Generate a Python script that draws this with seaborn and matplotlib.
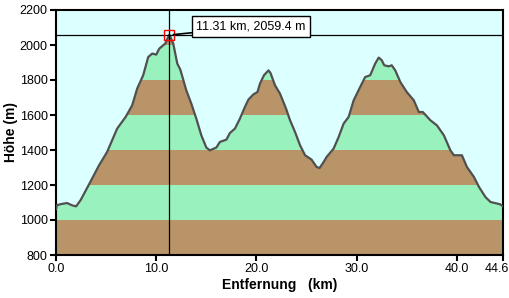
import numpy as np
import pandas as pd
import matplotlib
matplotlib.use("Agg")
import matplotlib.pyplot as plt
import matplotlib.transforms as mtransforms
import seaborn as sns

# ---- data ----
distance_km = [0.0, 0.1, 0.6, 1.1, 1.6, 2.0, 2.45, 3.3, 4.3, 5.1, 6.1, 6.95, 7.6, 8.1, 8.7,
               9.2, 9.6, 10.0, 10.3, 10.9, 11.31, 11.7, 12.1, 12.4, 13.0, 13.5, 14.0, 14.5,
               15.0, 15.35, 16.0, 16.35, 17.0, 17.35, 17.85, 18.35, 18.85, 19.2, 19.7, 20.1,
               20.35, 20.75, 21.2, 21.4, 21.85, 22.35, 22.95, 23.35, 23.85, 24.35, 24.85,
               25.5, 26.0, 26.3, 26.7, 27.0, 27.7, 28.2, 28.7, 29.2, 29.7, 30.35, 30.85,
               31.35, 31.85, 32.2, 32.5, 32.75, 33.2, 33.5, 33.85, 34.35, 35.0, 35.7, 36.2,
               36.6, 37.35, 38.0, 38.7, 39.35, 39.7, 40.5, 41.0, 41.7, 42.2, 42.85, 43.35,
               44.3, 44.6]
elevation_m = [1061, 1085, 1092, 1097, 1084, 1078, 1113, 1204, 1313, 1389, 1522, 1589, 1655,
               1751, 1827, 1931, 1951, 1945, 1979, 2008, 2059.4, 2008, 1894, 1860, 1741, 1665,
               1579, 1484, 1414, 1398, 1414, 1446, 1459, 1497, 1522, 1579, 1646, 1688, 1718,
               1731, 1779, 1827, 1855, 1840, 1770, 1722, 1637, 1570, 1503, 1427, 1370, 1345,
               1303, 1297, 1331, 1360, 1408, 1474, 1551, 1589, 1684, 1760, 1817, 1827, 1894,
               1928, 1913, 1884, 1878, 1884, 1855, 1789, 1731, 1684, 1617, 1617, 1570, 1541,
               1484, 1398, 1370, 1370, 1303, 1246, 1189, 1131, 1103, 1090, 1078]
band_edges = [800, 1000, 1200, 1400, 1600, 1800, 2000, 2200]
y_ticks = [800, 1000, 1200, 1400, 1600, 1800, 2000, 2200]
x_ticks = [0.0, 10.0, 20.0, 30.0, 40.0, 44.6]
x_tick_labels = ["0.0", "10.0", "20.0", "30.0", "40.0", "44.6"]
peak_km = 11.31
peak_m = 2059.4
label_text = "11.31 km, 2059.4 m"

df = pd.DataFrame({"km": distance_km, "m": elevation_m})

sns.set_style("ticks")
plt.rcParams["font.family"] = ["Liberation Sans", "DejaVu Sans"]
plt.rcParams["text.color"] = "black"
plt.rcParams["axes.labelcolor"] = "black"
plt.rcParams["xtick.color"] = "black"
plt.rcParams["ytick.color"] = "black"

BROWN = "#B89468"
GREEN = "#99F2BE"
SKY = "#DCFFFF"

fig = plt.figure(figsize=(5.09, 2.98), dpi=100)
ax = fig.add_axes([56 / 509, 43 / 298, (503 - 56) / 509, (255 - 10) / 298])

# elevation bands
for i in range(len(band_edges) - 1):
    ax.axhspan(band_edges[i], band_edges[i + 1],
               color=BROWN if i % 2 == 0 else GREEN, lw=0, zorder=0)

# sky above profile
ax.fill_between(df["km"], df["m"], 2200, color=SKY, lw=0, zorder=1)

sns.lineplot(data=df, x="km", y="m", ax=ax, color="#505050", lw=1.6, zorder=3,
             estimator=None, sort=False)

# crosshair
ax.axvline(peak_km, color="black", lw=0.9, zorder=4)
ax.axhline(peak_m, color="black", lw=0.9, zorder=4)
ax.plot([peak_km], [peak_m], marker="s", ms=6.5, mfc="none", mec="red", mew=1.0, zorder=5)

ax.annotate(label_text, xy=(peak_km + 0.4, peak_m), xytext=(14.0, 2104),
            ha="left", va="center", fontsize=9, color="black", zorder=6,
            bbox=dict(boxstyle="square,pad=0.35", fc="white", ec="black", lw=1),
            arrowprops=dict(arrowstyle="-", color="black", lw=1.2,
                            shrinkA=0, shrinkB=0))

ax.set_xlim(0, 44.6)
ax.set_ylim(800, 2200)
ax.set_xticks(x_ticks)
ax.set_xticklabels(x_tick_labels)
ax.set_yticks(y_ticks)
ax.tick_params(axis="both", labelsize=9, length=4, width=1.5, direction="out", pad=2,
               colors="black")
for s in ax.spines.values():
    s.set_linewidth(1.5)
    s.set_color("black")
    s.set_visible(True)

# keep the last x tick label inside the figure, as in the reference
last = ax.get_xticklabels()[-1]
last.set_transform(last.get_transform() +
                   mtransforms.ScaledTranslation(-6 / 100, 0, fig.dpi_scale_trans))

ax.set_xlabel("Entfernung   (km)", fontsize=10, fontweight="bold", labelpad=2)
ax.set_ylabel("Höhe (m)", fontsize=10, fontweight="bold", labelpad=1)

fig.savefig("out.png", dpi=100, facecolor="white")
